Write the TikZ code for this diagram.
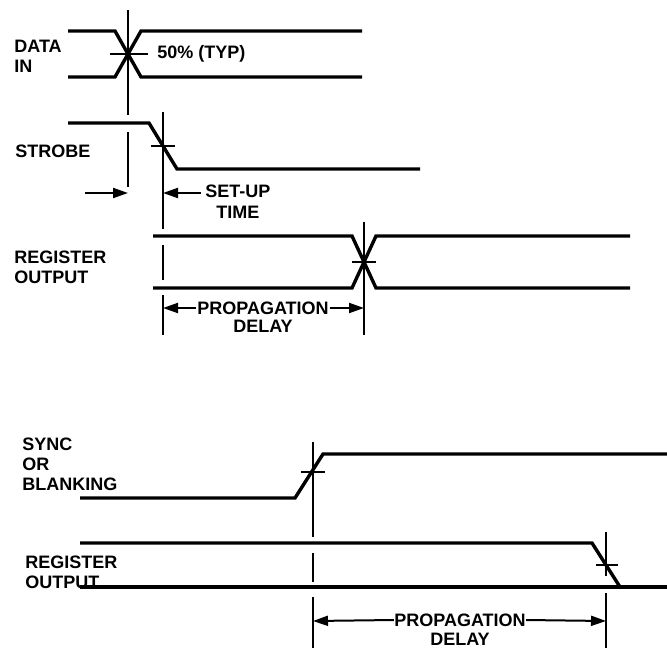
\documentclass[tikz,border=0pt]{standalone}
\usepackage{fontspec}
\setmainfont{Liberation Sans}
\usetikzlibrary{arrows.meta}

\tikzset{
  wave/.style={line width=1.7pt},
  marker/.style={line width=1pt},
  dim/.style={line width=1pt,-{Triangle[length=7.5pt,width=5pt]}},
  sig/.style={font=\bfseries\fontsize{9}{10}\selectfont,align=left,anchor=west,inner sep=0pt},
  lbl/.style={font=\bfseries\fontsize{9}{10}\selectfont,inner sep=2pt}
}

\begin{document}
\begin{tikzpicture}[x=0.5pt,y=-0.5pt]
        \useasboundingbox (0,0) rectangle (667,651);

        % signal names
        \node[sig] (datain) at (14,56) {DATA\\IN};
        \node[sig] (strobe) at (15,151) {STROBE};
        \node[sig] (regout) at (14,267) {REGISTER\\OUTPUT};
        \node[sig] (sync) at (22,464) {SYNC\\OR\\BLANKING};
        \node[sig] (regoutb) at (25,572) {REGISTER\\OUTPUT};

        % data in
        \draw[wave](68,31)--(115,31)--(141,77)--(362,77);
        \draw[wave](68,77)--(115,77)--(141,31)--(362,31);
        \draw[marker](128,10)--(128,115);
        \draw[marker](110,54)--(148,54);
        \node[lbl,anchor=west] (typ) at (153,54) {50\% (TYP)};

        % strobe
        \draw[wave](68,123)--(149,123)--(177,169)--(420,169);
        \draw[marker](151,146)--(175,146);
        \draw[marker](163,112)--(163,229);
        \draw[marker](163,245)--(163,280);
        \draw[marker](163,295)--(163,335);
        \draw[marker](128,132)--(128,187);

        % set-up time
        \coordinate (setupA) at (85,193);
        \coordinate (setupB) at (128,193);
        \coordinate (setupC) at (163,193);
        \node[lbl,anchor=west] (setup) at (201,191) {SET-UP};
        \node[lbl,below=0pt] (time) at (setup.south) {TIME};
        \draw[dim](setupA)--(setupB);
        \draw[dim](setup.west|-setupC)--(setupC);

        % register output
        \draw[wave](153,236)--(352,236)--(376,288)--(630,288);
        \draw[wave](153,288)--(352,288)--(376,236)--(630,236);
        \draw[marker](364,222)--(364,335);
        \draw[marker](352,262)--(376,262);

        \coordinate (propA) at (163,308);
        \coordinate (propB) at (364,308);
        \node[lbl,inner sep=0.3pt] (prop) at (263,308) {PROPAGATION};
        \node[lbl,below=0pt] (delay) at (prop.south) {DELAY};
        \draw[dim](prop.west)--(propA);
        \draw[dim](prop.east)--(propB);

        % sync or blanking
        \draw[wave](80,498)--(295,498)--(323,454)--(667,454);
        \draw[marker](301,472)--(325,472);
        \draw[marker](313,442)--(313,537);
        \draw[marker](313,553)--(313,582);
        \draw[marker](313,597)--(313,648);

        % register output (blanking)
        \draw[wave](80,543)--(592,543)--(620,587);
        \draw[wave](80,587)--(667,587);
        \draw[marker](596,565)--(618,565);
        \draw[marker](606,532)--(606,576);
        \draw[marker](606,593)--(606,648);

        \coordinate (propC) at (313,621);
        \coordinate (propD) at (606,621);
        \node[lbl,inner sep=0pt] (propb) at (460,620) {PROPAGATION};
        \node[lbl,below=1pt] (delayb) at (propb.south) {DELAY};
        \draw[dim](propb.west)--(propC);
        \draw[dim](propb.east)--(propD);
    \end{tikzpicture}
\end{document}
